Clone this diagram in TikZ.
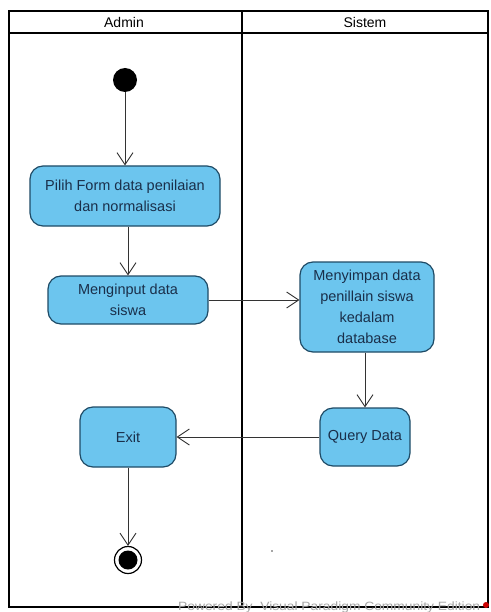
\documentclass[tikz,border=0pt]{standalone}
\usepackage{fontspec}
\setmainfont{Liberation Sans}
\usetikzlibrary{arrows.meta}
\definecolor{actfill}{HTML}{6CC5EE}
\definecolor{actline}{HTML}{1F4B66}
\definecolor{acttext}{HTML}{1A2F4A}
\tikzset{
  act/.style={draw=actline, line width=1.2pt, fill=actfill, rounded corners=13pt,
    align=center, text=acttext, font=\fontsize{14.5}{21}\selectfont, inner sep=0pt},
  flow/.style={draw=black!80, line width=0.9pt, -{Straight Barb[length=12pt,width=16pt,line width=0.9pt]}},
  lane/.style={draw=black, line width=2.5pt},
}
\begin{document}
\begin{tikzpicture}[x=1pt,y=-1pt]
\useasboundingbox (0,0) rectangle (490,612);
\fill[white] (0,0) rectangle (490,612);
% swimlanes
\draw[lane] (9,11) rectangle (488,607);
\draw[black, line width=1.8pt] (9,33) -- (488,33);
\draw[lane] (242,11) -- (242,607);
\node[font=\fontsize{14}{16}\selectfont] (hadmin) at (124,22) {Admin};
\node[font=\fontsize{14}{16}\selectfont] (hsistem) at (365,22) {Sistem};
% nodes
\node[circle, fill=black, minimum size=24pt, inner sep=0pt] (start) at (125,80) {};
\node[act, minimum width=190pt, minimum height=60pt] (pilih) at (125,196) {Pilih Form data penilaian\\dan normalisasi};
\node[act, minimum width=160pt, minimum height=48pt] (input) at (128,300) {Menginput data\\siswa};
\node[act, minimum width=134pt, minimum height=90pt] (simpan) at (367,307) {Menyimpan data\\penillain siswa\\kedalam\\database};
\node[act, minimum width=90pt, minimum height=58pt] (query) at (365,437) {Query Data};
\node[act, minimum width=96pt, minimum height=60pt] (exit) at (128,437) {Exit};
\node[circle, draw=black, line width=1.2pt, fill=white, minimum size=27pt, inner sep=0pt] (end) at (128,560) {};
\node[circle, fill=black, minimum size=19pt, inner sep=0pt] (endin) at (end.center) {};
% flows
\draw[flow] (start) -- (start |- pilih.north);
\draw[flow] (pilih.south -| input) -- (input.north);
\draw[flow] (input.east) -- (simpan.west |- input.east);
\draw[flow] (simpan.south -| query) -- (query.north);
\draw[flow] (query.west) -- (exit.east);
\draw[flow] (exit.south) -- (end.north);
% dot and watermark
\fill[black!70] (272,551) circle (0.8pt);
\node[anchor=base west, text=black!35, font=\fontsize{12}{14}\selectfont, inner sep=0pt, xscale=1.15] (wm) at (178,610.5) {Powered By\ \ Visual Paradigm Community Edition};
\fill[red!80!black] (486,605) circle (3pt);
\end{tikzpicture}
\end{document}
